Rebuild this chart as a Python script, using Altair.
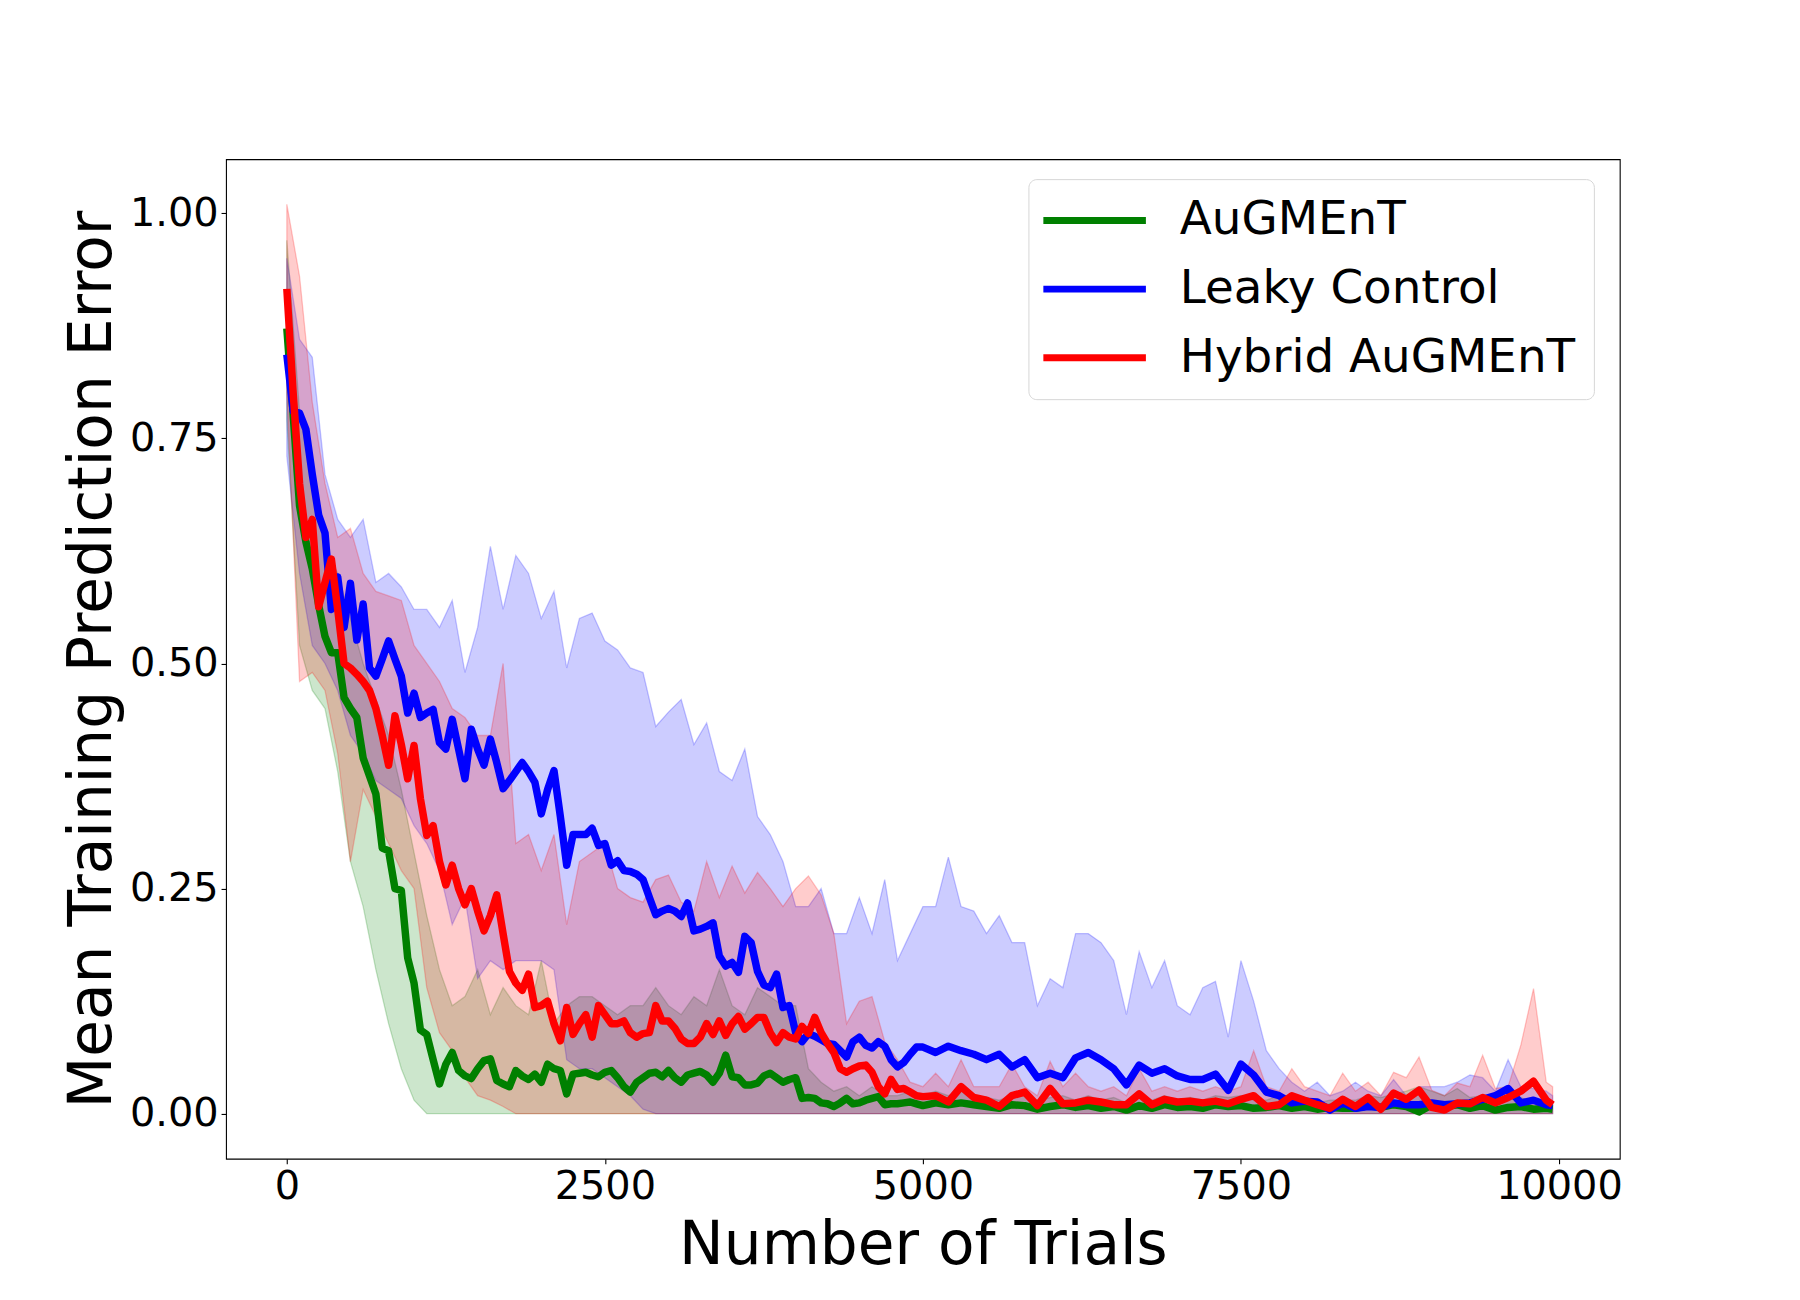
import altair as alt
import pandas as pd

# x positions of the band samples (number of trials)
trials = [
    0, 100, 200, 300, 400, 500, 600, 700, 800, 900,
    1000, 1100, 1200, 1300, 1400, 1500, 1600, 1700, 1800, 1900,
    2000, 2100, 2200, 2300, 2400, 2500, 2600, 2700, 2800, 2900,
    3000, 3100, 3200, 3300, 3400, 3500, 3600, 3700, 3800, 3900,
    4000, 4100, 4200, 4300, 4400, 4500, 4600, 4700, 4800, 4900,
    5000, 5100, 5200, 5300, 5400, 5500, 5600, 5700, 5800, 5900,
    6000, 6100, 6200, 6300, 6400, 6500, 6600, 6700, 6800, 6900,
    7000, 7100, 7200, 7300, 7400, 7500, 7600, 7700, 7800, 7900,
    8000, 8100, 8200, 8300, 8400, 8500, 8600, 8700, 8800, 8900,
    9000, 9100, 9200, 9300, 9400, 9500, 9600, 9700, 9800, 9900,
    9950,
]

# x positions of the mean-line samples
line_trials = [
    0, 50, 100, 150, 200, 250, 300, 350, 400, 450,
    500, 550, 600, 650, 700, 750, 800, 850, 900, 950,
    1000, 1050, 1100, 1150, 1200, 1250, 1300, 1350, 1400, 1450,
    1500, 1550, 1600, 1650, 1700, 1750, 1800, 1850, 1900, 1950,
    2000, 2050, 2100, 2150, 2200, 2250, 2300, 2350, 2400, 2450,
    2500, 2550, 2600, 2650, 2700, 2750, 2800, 2850, 2900, 2950,
    3000, 3050, 3100, 3150, 3200, 3250, 3300, 3350, 3400, 3450,
    3500, 3550, 3600, 3650, 3700, 3750, 3800, 3850, 3900, 3950,
    4000, 4050, 4100, 4150, 4200, 4250, 4300, 4350, 4400, 4450,
    4500, 4550, 4600, 4650, 4700, 4750, 4800, 4850, 4900, 4950,
    5000, 5100, 5200, 5300, 5400, 5500, 5600, 5700, 5800, 5900,
    6000, 6100, 6200, 6300, 6400, 6500, 6600, 6700, 6800, 6900,
    7000, 7100, 7200, 7300, 7400, 7500, 7600, 7700, 7800, 7900,
    8000, 8100, 8200, 8300, 8400, 8500, 8600, 8700, 8800, 8900,
    9000, 9100, 9200, 9300, 9400, 9500, 9600, 9700, 9800, 9900,
    9950,
]

# ---------------- AuGMEnT ----------------
aug_mean = [
    0.872, 0.776, 0.675, 0.635, 0.605, 0.565, 0.53, 0.512, 0.512, 0.462,
    0.45, 0.44, 0.395, 0.375, 0.355, 0.295, 0.292, 0.25, 0.248, 0.173,
    0.145, 0.093, 0.088, 0.06, 0.033, 0.055, 0.068, 0.048, 0.042, 0.039,
    0.05, 0.059, 0.061, 0.037, 0.033, 0.03, 0.048, 0.042, 0.038, 0.044,
    0.035, 0.055, 0.05, 0.048, 0.022, 0.044, 0.045, 0.046, 0.043, 0.041,
    0.046, 0.048, 0.04, 0.03, 0.024, 0.035, 0.04, 0.045, 0.046, 0.041,
    0.048, 0.04, 0.035, 0.043, 0.045, 0.047, 0.043, 0.035, 0.045, 0.065,
    0.041, 0.04, 0.032, 0.032, 0.034, 0.042, 0.045, 0.04, 0.035, 0.038,
    0.04, 0.017, 0.018, 0.017, 0.012, 0.011, 0.008, 0.012, 0.017, 0.011,
    0.012, 0.015, 0.017, 0.019, 0.01, 0.011, 0.011, 0.012, 0.013, 0.011,
    0.009, 0.012, 0.010, 0.012, 0.010, 0.008, 0.006, 0.010, 0.009, 0.005,
    0.008, 0.010, 0.007, 0.009, 0.006, 0.008, 0.004, 0.009, 0.006, 0.010,
    0.007, 0.008, 0.006, 0.010, 0.008, 0.009, 0.006, 0.007, 0.009, 0.006,
    0.008, 0.005, 0.007, 0.006, 0.006, 0.009, 0.007, 0.010, 0.008, 0.002,
    0.010, 0.008, 0.010, 0.006, 0.009, 0.004, 0.007, 0.008, 0.005, 0.006,
    0.005,
]
aug_low = [
    0.77, 0.52, 0.47, 0.45, 0.38, 0.28, 0.23, 0.16, 0.10, 0.05,
    0.015, 0.0, 0.0, 0.0, 0.0, 0.0, 0.0, 0.0, 0.0, 0.0,
    0.0, 0.0, 0.0, 0.0, 0.0, 0.0, 0.0, 0.0, 0.0, 0.0,
    0.0, 0.0, 0.0, 0.0, 0.0, 0.0, 0.0, 0.0, 0.0, 0.0,
    0.0, 0.0, 0.0, 0.0, 0.0, 0.0, 0.0, 0.0, 0.0, 0.0,
    0.0, 0.0, 0.0, 0.0, 0.0, 0.0, 0.0, 0.0, 0.0, 0.0,
    0.0, 0.0, 0.0, 0.0, 0.0, 0.0, 0.0, 0.0, 0.0, 0.0,
    0.0, 0.0, 0.0, 0.0, 0.0, 0.0, 0.0, 0.0, 0.0, 0.0,
    0.0, 0.0, 0.0, 0.0, 0.0, 0.0, 0.0, 0.0, 0.0, 0.0,
    0.0, 0.0, 0.0, 0.0, 0.0, 0.0, 0.0, 0.0, 0.0, 0.0,
    0.0,
]
aug_high = [
    0.97, 0.78, 0.70, 0.63, 0.60, 0.55, 0.50, 0.46, 0.42, 0.36,
    0.29, 0.22, 0.16, 0.12, 0.13, 0.16, 0.11, 0.14, 0.12, 0.11,
    0.17, 0.10, 0.12, 0.13, 0.13, 0.12, 0.11, 0.12, 0.12, 0.14,
    0.12, 0.11, 0.13, 0.12, 0.16, 0.12, 0.11, 0.14, 0.13, 0.12,
    0.12, 0.05, 0.035, 0.025, 0.03, 0.02, 0.03, 0.02, 0.02, 0.025,
    0.02, 0.025, 0.02, 0.025, 0.02, 0.018, 0.015, 0.02, 0.02, 0.015,
    0.018, 0.02, 0.015, 0.02, 0.015, 0.018, 0.012, 0.02, 0.015, 0.02,
    0.015, 0.018, 0.015, 0.02, 0.018, 0.02, 0.015, 0.015, 0.02, 0.015,
    0.018, 0.012, 0.015, 0.015, 0.015, 0.02, 0.018, 0.022, 0.025, 0.03,
    0.025, 0.02, 0.028, 0.018, 0.02, 0.012, 0.015, 0.018, 0.012, 0.015,
    0.012,
]

# ---------------- Leaky Control ----------------
leaky_mean = [
    0.843, 0.78, 0.778, 0.76, 0.71, 0.665, 0.645, 0.56, 0.596, 0.54,
    0.589, 0.526, 0.566, 0.495, 0.486, 0.505, 0.525, 0.505, 0.486, 0.445,
    0.467, 0.44, 0.445, 0.449, 0.412, 0.405, 0.438, 0.405, 0.372, 0.427,
    0.405, 0.387, 0.416, 0.39, 0.361, 0.37, 0.38, 0.39, 0.38, 0.368,
    0.333, 0.36, 0.381, 0.33, 0.276, 0.31, 0.31, 0.31, 0.317, 0.298,
    0.30, 0.276, 0.281, 0.27, 0.269, 0.266, 0.26, 0.24, 0.221, 0.225,
    0.228, 0.225, 0.219, 0.234, 0.203, 0.205, 0.208, 0.212, 0.175, 0.164,
    0.168, 0.157, 0.197, 0.19, 0.158, 0.143, 0.14, 0.155, 0.118, 0.12,
    0.09, 0.08, 0.089, 0.086, 0.082, 0.078, 0.077, 0.07, 0.063, 0.08,
    0.085, 0.076, 0.073, 0.08, 0.075, 0.06, 0.052, 0.057, 0.066, 0.074,
    0.074, 0.068, 0.075, 0.07, 0.066, 0.06, 0.066, 0.052, 0.06, 0.04,
    0.045, 0.04, 0.062, 0.068, 0.06, 0.05, 0.032, 0.054, 0.045, 0.05,
    0.042, 0.038, 0.038, 0.044, 0.026, 0.055, 0.043, 0.024, 0.02, 0.012,
    0.014, 0.013, 0.004, 0.012, 0.006, 0.008, 0.007, 0.012, 0.01, 0.01,
    0.012, 0.01, 0.011, 0.012, 0.016, 0.02, 0.028, 0.012, 0.015, 0.01,
    0.009,
]
leaky_low = [
    0.73, 0.60, 0.52, 0.50, 0.47, 0.42, 0.40, 0.37, 0.36, 0.35,
    0.32, 0.30, 0.27, 0.21, 0.24, 0.15, 0.17, 0.16, 0.17, 0.17,
    0.17, 0.16, 0.06, 0.05, 0.05, 0.04, 0.03, 0.02, 0.005, 0.0,
    0.0, 0.0, 0.0, 0.0, 0.0, 0.0, 0.0, 0.0, 0.0, 0.0,
    0.0, 0.0, 0.0, 0.0, 0.0, 0.0, 0.0, 0.0, 0.0, 0.0,
    0.0, 0.0, 0.0, 0.0, 0.0, 0.0, 0.0, 0.0, 0.0, 0.0,
    0.0, 0.0, 0.0, 0.0, 0.0, 0.0, 0.0, 0.0, 0.0, 0.0,
    0.0, 0.0, 0.0, 0.0, 0.0, 0.0, 0.0, 0.0, 0.0, 0.0,
    0.0, 0.0, 0.0, 0.0, 0.0, 0.0, 0.0, 0.0, 0.0, 0.0,
    0.0, 0.0, 0.0, 0.0, 0.0, 0.0, 0.0, 0.0, 0.0, 0.0,
    0.0,
]
leaky_high = [
    0.95, 0.86, 0.84, 0.71, 0.66, 0.64, 0.66, 0.59, 0.60, 0.585,
    0.56, 0.56, 0.54, 0.57, 0.49, 0.54, 0.63, 0.56, 0.62, 0.60,
    0.55, 0.58, 0.495, 0.55, 0.556, 0.525, 0.515, 0.495, 0.49, 0.43,
    0.446, 0.46, 0.41, 0.434, 0.38, 0.37, 0.405, 0.33, 0.31, 0.28,
    0.23, 0.23, 0.25, 0.20, 0.20, 0.24, 0.20, 0.26, 0.17, 0.20,
    0.23, 0.23, 0.285, 0.23, 0.225, 0.20, 0.22, 0.19, 0.19, 0.12,
    0.15, 0.14, 0.20, 0.20, 0.19, 0.17, 0.11, 0.18, 0.14, 0.17,
    0.12, 0.11, 0.14, 0.147, 0.085, 0.17, 0.125, 0.07, 0.05, 0.035,
    0.025, 0.035, 0.02, 0.025, 0.035, 0.025, 0.02, 0.038, 0.02, 0.03,
    0.03, 0.03, 0.035, 0.043, 0.04, 0.025, 0.06, 0.03, 0.028, 0.025,
    0.02,
]

# ---------------- Hybrid AuGMEnT ----------------
hybrid_mean = [
    0.916, 0.80, 0.70, 0.64, 0.66, 0.563, 0.59, 0.616, 0.56, 0.50,
    0.495, 0.488, 0.48, 0.47, 0.45, 0.42, 0.387, 0.442, 0.41, 0.372,
    0.409, 0.35, 0.309, 0.32, 0.28, 0.254, 0.276, 0.25, 0.232, 0.25,
    0.225, 0.203, 0.22, 0.243, 0.20, 0.158, 0.145, 0.137, 0.155, 0.118,
    0.12, 0.125, 0.10, 0.081, 0.118, 0.088, 0.10, 0.11, 0.085, 0.12,
    0.11, 0.10, 0.10, 0.103, 0.09, 0.085, 0.089, 0.09, 0.12, 0.103,
    0.103, 0.095, 0.083, 0.078, 0.078, 0.085, 0.10, 0.088, 0.103, 0.087,
    0.10, 0.108, 0.094, 0.10, 0.107, 0.107, 0.09, 0.079, 0.09, 0.085,
    0.083, 0.097, 0.089, 0.107, 0.09, 0.078, 0.068, 0.05, 0.046, 0.05,
    0.053, 0.054, 0.046, 0.03, 0.022, 0.038, 0.027, 0.028, 0.024, 0.02,
    0.019, 0.02, 0.013, 0.03, 0.018, 0.015, 0.008, 0.02, 0.024, 0.009,
    0.028, 0.011, 0.012, 0.015, 0.013, 0.01, 0.01, 0.022, 0.01, 0.016,
    0.013, 0.014, 0.012, 0.014, 0.011, 0.016, 0.02, 0.008, 0.01, 0.02,
    0.015, 0.01, 0.006, 0.016, 0.008, 0.018, 0.005, 0.023, 0.016, 0.026,
    0.007, 0.004, 0.012, 0.011, 0.018, 0.012, 0.018, 0.025, 0.036, 0.015,
    0.01,
]
hybrid_low = [
    0.80, 0.48, 0.49, 0.47, 0.40, 0.28, 0.36, 0.33, 0.30, 0.27,
    0.25, 0.14, 0.09, 0.07, 0.04, 0.02, 0.015, 0.008, 0.0, 0.0,
    0.0, 0.0, 0.0, 0.0, 0.0, 0.0, 0.0, 0.0, 0.0, 0.0,
    0.0, 0.0, 0.0, 0.0, 0.0, 0.0, 0.0, 0.0, 0.0, 0.0,
    0.0, 0.0, 0.0, 0.0, 0.0, 0.0, 0.0, 0.0, 0.0, 0.0,
    0.0, 0.0, 0.0, 0.0, 0.0, 0.0, 0.0, 0.0, 0.0, 0.0,
    0.0, 0.0, 0.0, 0.0, 0.0, 0.0, 0.0, 0.0, 0.0, 0.0,
    0.0, 0.0, 0.0, 0.0, 0.0, 0.0, 0.0, 0.0, 0.0, 0.0,
    0.0, 0.0, 0.0, 0.0, 0.0, 0.0, 0.0, 0.0, 0.0, 0.0,
    0.0, 0.0, 0.0, 0.0, 0.0, 0.0, 0.0, 0.0, 0.0, 0.0,
    0.0,
]
hybrid_high = [
    1.01, 0.93, 0.79, 0.70, 0.64, 0.65, 0.60, 0.58, 0.575, 0.57,
    0.52, 0.50, 0.48, 0.45, 0.44, 0.42, 0.42, 0.50, 0.30, 0.31,
    0.27, 0.31, 0.21, 0.28, 0.29, 0.30, 0.25, 0.24, 0.235, 0.26,
    0.265, 0.235, 0.225, 0.28, 0.24, 0.275, 0.245, 0.268, 0.25, 0.23,
    0.25, 0.264, 0.243, 0.20, 0.10, 0.125, 0.13, 0.08, 0.06, 0.035,
    0.03, 0.045, 0.03, 0.06, 0.03, 0.03, 0.03, 0.055, 0.03, 0.02,
    0.058, 0.03, 0.045, 0.03, 0.025, 0.03, 0.02, 0.05, 0.025, 0.03,
    0.025, 0.03, 0.025, 0.03, 0.025, 0.03, 0.07, 0.03, 0.025, 0.05,
    0.03, 0.025, 0.02, 0.045, 0.025, 0.035, 0.02, 0.046, 0.04, 0.063,
    0.026, 0.02, 0.034, 0.03, 0.065, 0.028, 0.03, 0.076, 0.139, 0.035,
    0.03,
]

series_names = ["AuGMEnT", "Leaky Control", "Hybrid AuGMEnT"]
series_colors = ["#008000", "#0000ff", "#ff0000"]
means = [aug_mean, leaky_mean, hybrid_mean]
lows = [aug_low, leaky_low, hybrid_low]
highs = [aug_high, leaky_high, hybrid_high]

band_frames, line_frames = [], []
for name, m, lo, hi in zip(series_names, means, lows, highs):
    band_frames.append(pd.DataFrame({"trial": trials, "low": lo, "high": hi,
                                     "series": name}))
    line_frames.append(pd.DataFrame({"trial": line_trials, "value": m,
                                     "series": name}))
bands_df = pd.concat(band_frames, ignore_index=True)
lines_df = pd.concat(line_frames, ignore_index=True)

x_scale = alt.Scale(domain=[-478, 10478], nice=False, zero=False)
y_scale = alt.Scale(domain=[-0.05, 1.06], nice=False, zero=False)
x_axis = alt.Axis(values=[0, 2500, 5000, 7500, 10000], format="d",
                  title="Number of Trials", labelFlush=False, labelOverlap=False)
y_axis = alt.Axis(values=[0, 0.25, 0.5, 0.75, 1.0], format=".2f",
                  title="Mean Training Prediction Error", labelOverlap=False)

color_enc = alt.Color(
    "series:N",
    scale=alt.Scale(domain=series_names, range=series_colors),
    legend=alt.Legend(
        title=None, orient="none", legendX=806, legendY=20,
        symbolType="M-2.575,0L2.575,0", symbolSize=1600, symbolStrokeWidth=7,
        symbolFillColor="transparent", symbolOffset=25,
        labelFont="DejaVu Sans", labelFontSize=47, labelColor="black",
        labelOffset=62, labelLimit=0, padding=18, rowPadding=21,
        fillColor="white", strokeColor="#d6d6d6", cornerRadius=8,
    ),
)

layers = []
for name, col in zip(series_names, series_colors):
    layers.append(
        alt.Chart(bands_df)
        .transform_filter(alt.datum.series == name)
        .mark_area(fill=col, fillOpacity=0.2, stroke=col, strokeOpacity=0.22,
                   strokeWidth=1.3)
        .encode(
            x=alt.X("trial:Q", scale=x_scale, axis=x_axis),
            y=alt.Y("low:Q", scale=y_scale, axis=y_axis),
            y2="high:Q",
        )
    )
for name in series_names:
    layers.append(
        alt.Chart(lines_df)
        .transform_filter(alt.datum.series == name)
        .mark_line(strokeWidth=7.5, strokeJoin="round", strokeCap="butt")
        .encode(
            x=alt.X("trial:Q", scale=x_scale, axis=x_axis),
            y=alt.Y("value:Q", scale=y_scale, axis=y_axis),
            color=color_enc,
        )
    )

chart = (
    alt.layer(*layers)
    .properties(
        width=1400, height=1004,
        autosize=alt.AutoSizeParams(type="none"),
        padding={"left": 219, "top": 149, "right": 173, "bottom": 139},
        background="white",
    )
    .configure_view(stroke="black", strokeWidth=1.1)
    .configure_axis(
        domain=False, grid=False, ticks=True, tickColor="black", tickSize=5,
        tickWidth=1.1, labelFont="DejaVu Sans", labelFontSize=40,
        labelColor="black", labelPadding=3, titleFont="DejaVu Sans",
        titleFontSize=60, titleFontWeight="normal", titleColor="black",
    )
    .configure_axisX(titlePadding=10)
    .configure_axisY(titlePadding=6)
)

chart.save("out.html", embed_options={"renderer": "svg", "actions": False})
